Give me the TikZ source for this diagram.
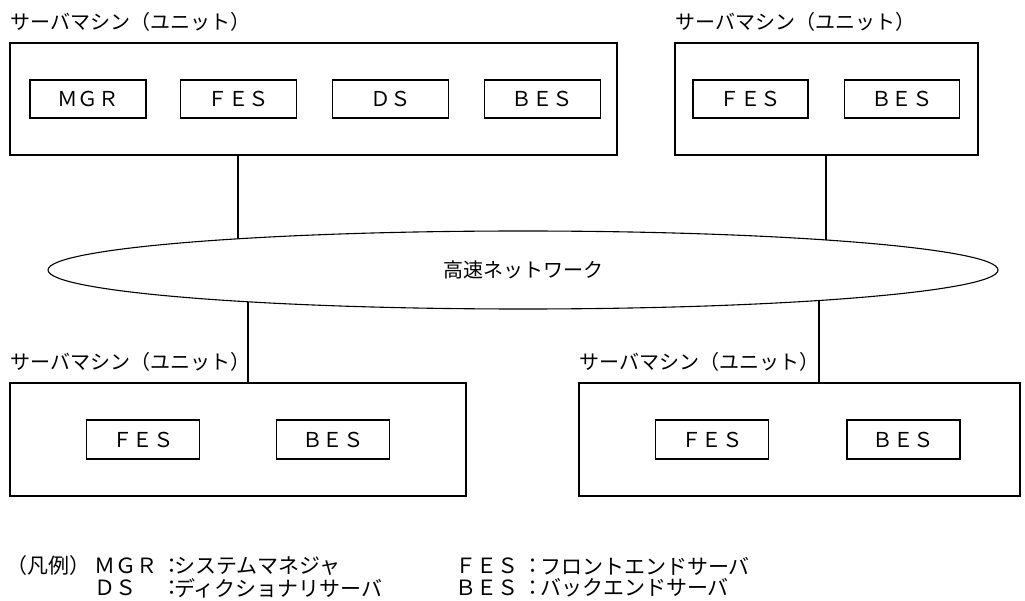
\documentclass[tikz,border=0pt]{standalone}
\usepackage{fontspec}
\setmainfont{Noto Sans CJK JP}
\usetikzlibrary{shapes.geometric}
\pgfdeclarelayer{bg}
\pgfsetlayers{bg,main}
\begin{document}
\begin{tikzpicture}[x=1pt,y=-1pt,
  unitbox/.style={draw,line width=1.1pt,inner sep=0pt,outer sep=0pt},
  compbox/.style={draw,line width=1.1pt,inner sep=0pt,outer sep=0pt,minimum height=38pt,font=\fontsize{20.5}{24}\selectfont},
  lbl/.style={anchor=west,inner sep=0pt,font=\fontsize{20}{24}\selectfont},
  leg/.style={inner sep=0pt,font=\fontsize{21}{25}\selectfont},
  conn/.style={line width=1.1pt}]
\useasboundingbox (0,0) rectangle (1025,601);
% units
\node[unitbox,minimum width=607pt,minimum height=112pt] (tl) at (313.5,99) {};
\node[unitbox,minimum width=303pt,minimum height=112pt] (tr) at (826.5,99) {};
\node[unitbox,minimum width=456pt,minimum height=113pt] (bl) at (238,439.5) {};
\node[unitbox,minimum width=441pt,minimum height=113pt] (br) at (799.5,439.5) {};
% unit labels
\node[lbl] (ltl) at (10,22) {サーバマシン（ユニット）};
\node[lbl] (ltr) at (675,22) {サーバマシン（ユニット）};
\node[lbl] (lbl1) at (10,362) {サーバマシン（ユニット）};
\node[lbl] (lbr) at (579,362) {サーバマシン（ユニット）};
% components
\node[compbox,minimum width=116pt] (mgr) at (88,99) {ＭＧＲ};
\node[compbox,minimum width=116pt] (fes1) at (238.5,99) {ＦＥＳ};
\node[compbox,minimum width=116pt] (ds) at (390.5,99) {ＤＳ};
\node[compbox,minimum width=116pt] (bes1) at (542.5,99) {ＢＥＳ};
\node[compbox,minimum width=115pt] (fes2) at (750.5,99) {ＦＥＳ};
\node[compbox,minimum width=115pt] (bes2) at (902,99) {ＢＥＳ};
\node[compbox,minimum width=113pt,minimum height=39pt] (fes3) at (143,439.5) {ＦＥＳ};
\node[compbox,minimum width=113pt,minimum height=39pt] (bes3) at (333,439.5) {ＢＥＳ};
\node[compbox,minimum width=113pt,minimum height=39pt] (fes4) at (712,439.5) {ＦＥＳ};
\node[compbox,minimum width=113pt,minimum height=39pt] (bes4) at (903.5,439.5) {ＢＥＳ};
% network
\node[ellipse,draw,fill=white,line width=1.1pt,minimum width=950pt,minimum height=78pt,inner sep=0pt,outer sep=0pt,font=\fontsize{20}{24}\selectfont] (net) at (523,270) {高速ネットワーク};
% connector x positions
\coordinate (x1) at (238,0);
\coordinate (x2) at (826,0);
\coordinate (x3) at (248,0);
\coordinate (x4) at (819,0);
\begin{pgfonlayer}{bg}
\draw[conn] (tl.south -| x1) -- (x1 |- net.center);
\draw[conn] (tr.south -| x2) -- (x2 |- net.center);
\draw[conn] (x3 |- net.center) -- (bl.north -| x3);
\draw[conn] (x4 |- net.center) -- (br.north -| x4);
\end{pgfonlayer}
% legend
\node[leg,anchor=west] (lgh) at (6,566) {（凡例）};
\node[leg,anchor=west] (k1) at (94,566) {ＭＧＲ};
\node[leg] (c1) at (172,566) {：};
\node[leg,anchor=west] (d1) at (174,566) {システムマネジャ};
\node[leg,anchor=west] (k2) at (94,588) {ＤＳ};
\node[leg] (c2) at (172,588) {：};
\node[leg,anchor=west] (d2) at (174,588) {ディクショナリサーバ};
\node[leg,anchor=west] (k3) at (455,566) {ＦＥＳ};
\node[leg] (c3) at (533,566) {：};
\node[leg,anchor=west] (d3) at (540,566) {フロントエンドサーバ};
\node[leg,anchor=west] (k4) at (455,588) {ＢＥＳ};
\node[leg] (c4) at (533,588) {：};
\node[leg,anchor=west] (d4) at (540,588) {バックエンドサーバ};
\end{tikzpicture}
\end{document}
